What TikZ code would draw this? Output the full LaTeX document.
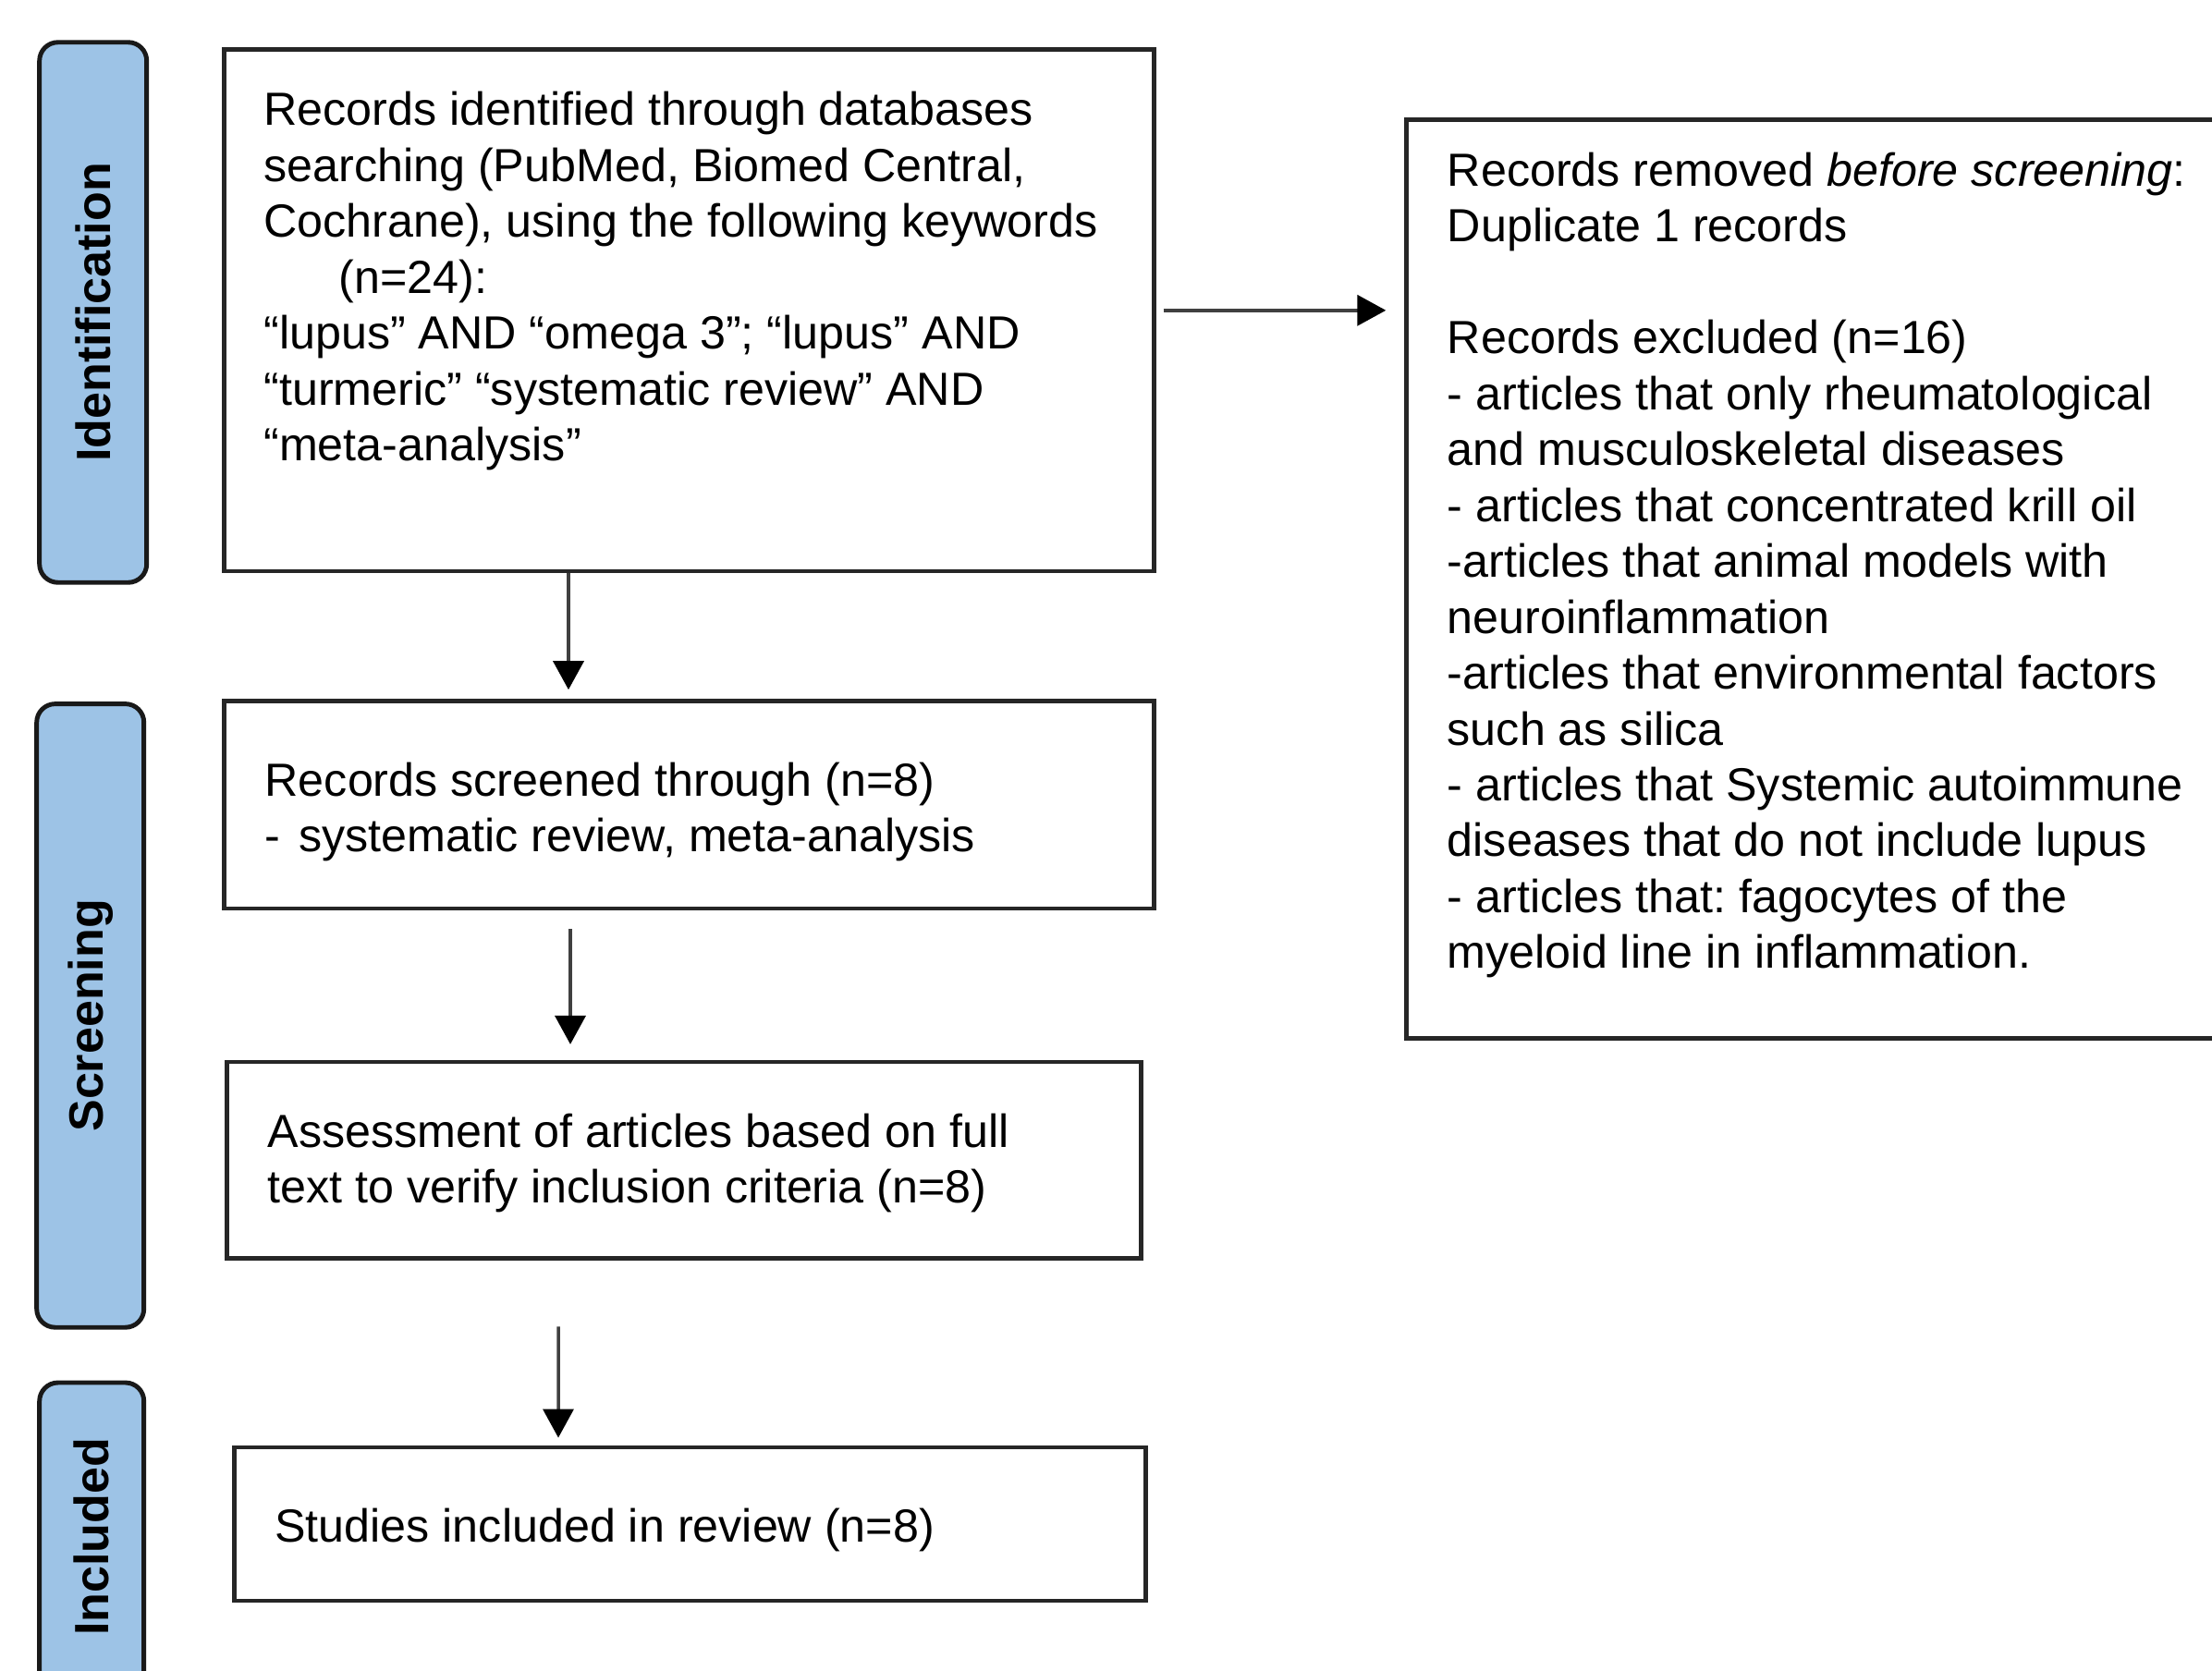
\documentclass[tikz,border=0pt]{standalone}
\usepackage{fontspec}
\setmainfont{Liberation Sans}
\usepackage{tikz}
\usetikzlibrary{arrows.meta,positioning,calc}
\frenchspacing
\definecolor{phaseblue}{HTML}{9DC3E6}
\tikzstyle{phase} = [rectangle, rounded corners=0.2cm, minimum width=1.16cm, draw=black!90, line width=1.4pt, fill=phaseblue, font=\fontsize{14.8}{17}\selectfont\bfseries]
\tikzstyle{stepbox} = [rectangle, draw=black!85, line width=1.3pt, inner xsep=0.44cm, inner ysep=0pt, align=flush left, font=\fontsize{14.3}{17.2}\selectfont]
\tikzstyle{boxtext} = [inner sep=0pt, align=flush left, anchor=north west, font=\fontsize{14.3}{17.2}\selectfont]

\begin{document}
\begin{tikzpicture}
        \tikzset{flowptr/.style={draw=black!75, line width=1pt, -{Triangle[length=0.31cm,width=0.33cm,color=black]}}}
        \useasboundingbox (0,0) rectangle (23.93,-18.07);
        \fill [white] (0,0) rectangle (23.93,-18.07);

        \node (ident) [phase, minimum height=5.845cm] at (1.007,-3.380) {\rotatebox{90}{Identification}};
        \node (screen) [phase, minimum height=6.746cm] at (0.977,-10.989) {\rotatebox{90}{Screening}};
        \node (incl) [phase, minimum width=1.13cm, minimum height=3.34cm] at (0.992,-16.63) {\rotatebox{90}{Included}};

        \node (box1) [stepbox, minimum width=10.057cm, minimum height=5.647cm] at (7.455,-3.358) {};
        \node (box1txt) [boxtext] at ([shift={(0.443,-0.476)}]box1.north west) {Records identified through databases\\
            searching (PubMed, Biomed Central,\\
            Cochrane), using the following keywords\\
            \hspace*{0.81cm}(n=24):\\
            “lupus” AND “omega 3”; “lupus” AND\\
            “turmeric” “systematic review” AND\\
            “meta-analysis”};
        \node (box2) [stepbox, minimum width=10.057cm, minimum height=2.244cm, text width=9.177cm] at (7.455,-8.707) {\rule{0pt}{0.52cm}Records screened through (n=8)\\
            -\hspace{0.2cm}systematic review, meta-analysis};
        \node (box3) [stepbox, minimum width=9.89cm, minimum height=2.122cm, text width=9.01cm] at (7.402,-12.553) {\rule{0pt}{0.43cm}Assessment of articles based on full\\
            text to verify inclusion criteria (n=8)};
        \node (box4) [stepbox, minimum width=9.86cm, minimum height=1.663cm, text width=8.98cm] at (7.463,-16.49) {\rule{0pt}{0.49cm}Studies included in review (n=8)};

        \node (rbox) [stepbox, minimum width=8.884cm, minimum height=9.936cm] at (19.658,-6.265) {};
        \node (rboxtxt) [boxtext] at ([shift={(0.458,-0.37)}]rbox.north west) {Records removed \textit{before screening}:\\
            Duplicate 1 records\\[17.2pt]
            Records excluded (n=16)\\
            - articles that only rheumatological\\
            and musculoskeletal diseases\\
            - articles that concentrated krill oil\\
            -articles that animal models with\\
            neuroinflammation\\
            -articles that environmental factors\\
            such as silica\\
            - articles that Systemic autoimmune\\
            diseases that do not include lupus\\
            - articles that: fagocytes of the\\
            myeloid line in inflammation.};

        \draw [flowptr] ([xshift=-1.305cm]box1.south) -- ([xshift=-1.305cm,yshift=0.1cm]box2.north);
        \draw [flowptr] ([xshift=-1.285cm,yshift=-0.2cm]box2.south) -- ([xshift=-1.232cm,yshift=0.17cm]box3.north);
        \draw [flowptr] ([xshift=-1.362cm,yshift=-0.716cm]box3.south) -- ([xshift=-1.423cm,yshift=0.08cm]box4.north);
        \draw [flowptr] ([xshift=0.08cm]box1.east) -- ($(rbox.west |- box1.east)+(-0.2,0)$);
\end{tikzpicture}
\end{document}
